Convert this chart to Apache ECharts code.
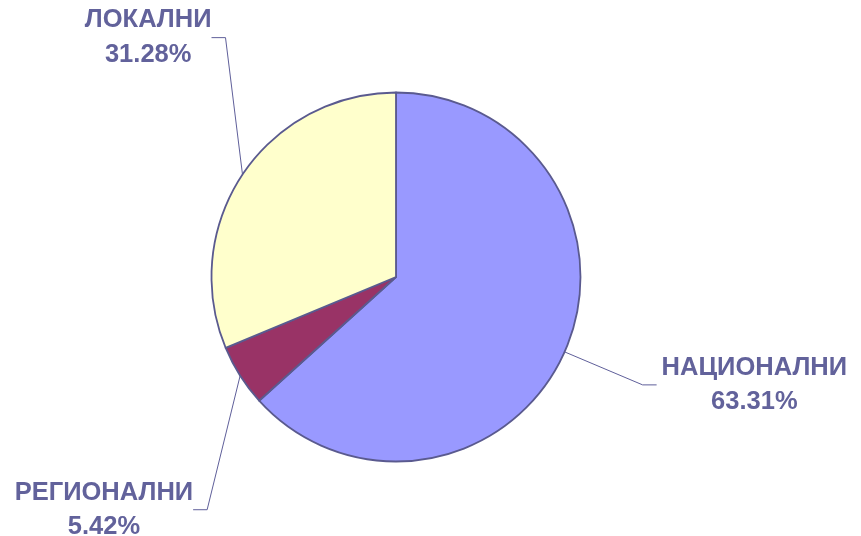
<!DOCTYPE html>
<html>
<head>
<meta charset="utf-8">
<script src="https://cdn.jsdelivr.net/npm/echarts@6/dist/echarts.min.js"></script>
<style>html,body{margin:0;padding:0;background:#fff}#c{width:861px;height:536px}</style>
</head>
<body>
<div id="c"></div>
<script>
const categories = ['НАЦИОНАЛНИ', 'РЕГИОНАЛНИ', 'ЛОКАЛНИ'];
const values = [63.31, 5.42, 31.28];
const colors = ['#9999FF', '#993366', '#FFFFCC'];

// label line bend offsets from the slice edge point, horizontal tail direction, and text gap (layout only)
const bends = [[78, 33, 1, 5], [-33, 134, -1, 0], [-17, -137, -1, 0]];
const tail = 14;

const chart = echarts.init(document.getElementById('c'), null, {renderer: 'canvas'});
chart.setOption({
  animation: false,
  backgroundColor: '#ffffff',
  series: [{
    type: 'pie',
    center: [396, 277],
    radius: 184.5,
    startAngle: 90,
    clockwise: true,
    silent: true,
    data: categories.map((c, i) => ({name: c, value: values[i], itemStyle: {color: colors[i]}})),
    itemStyle: {borderColor: '#5A5A8F', borderWidth: 1.8},
    label: {
      show: true,
      formatter: p => p.name + '\n' + p.value.toFixed(2) + '%',
      fontFamily: 'Liberation Sans, Arial, sans-serif',
      fontWeight: 'bold',
      fontSize: 25.5,
      lineHeight: 34.5,
      color: '#62629B',
      align: 'center'
    },
    labelLine: {show: true, lineStyle: {color: '#5F5F9A', width: 1}},
    labelLayout: function (params) {
      const b = bends[params.dataIndex];
      const p0 = params.labelLinePoints[0];
      const p1 = [p0[0] + b[0], p0[1] + b[1]];
      const p2 = [p1[0] + b[2] * tail, p1[1]];
      const w = params.labelRect.width;
      return {
        x: p2[0] + b[2] * (b[3] + w / 2),
        y: p2[1],
        align: 'center',
        verticalAlign: 'middle',
        labelLinePoints: [p0, p1, p2]
      };
    }
  }]
});
</script>
</body>
</html>
